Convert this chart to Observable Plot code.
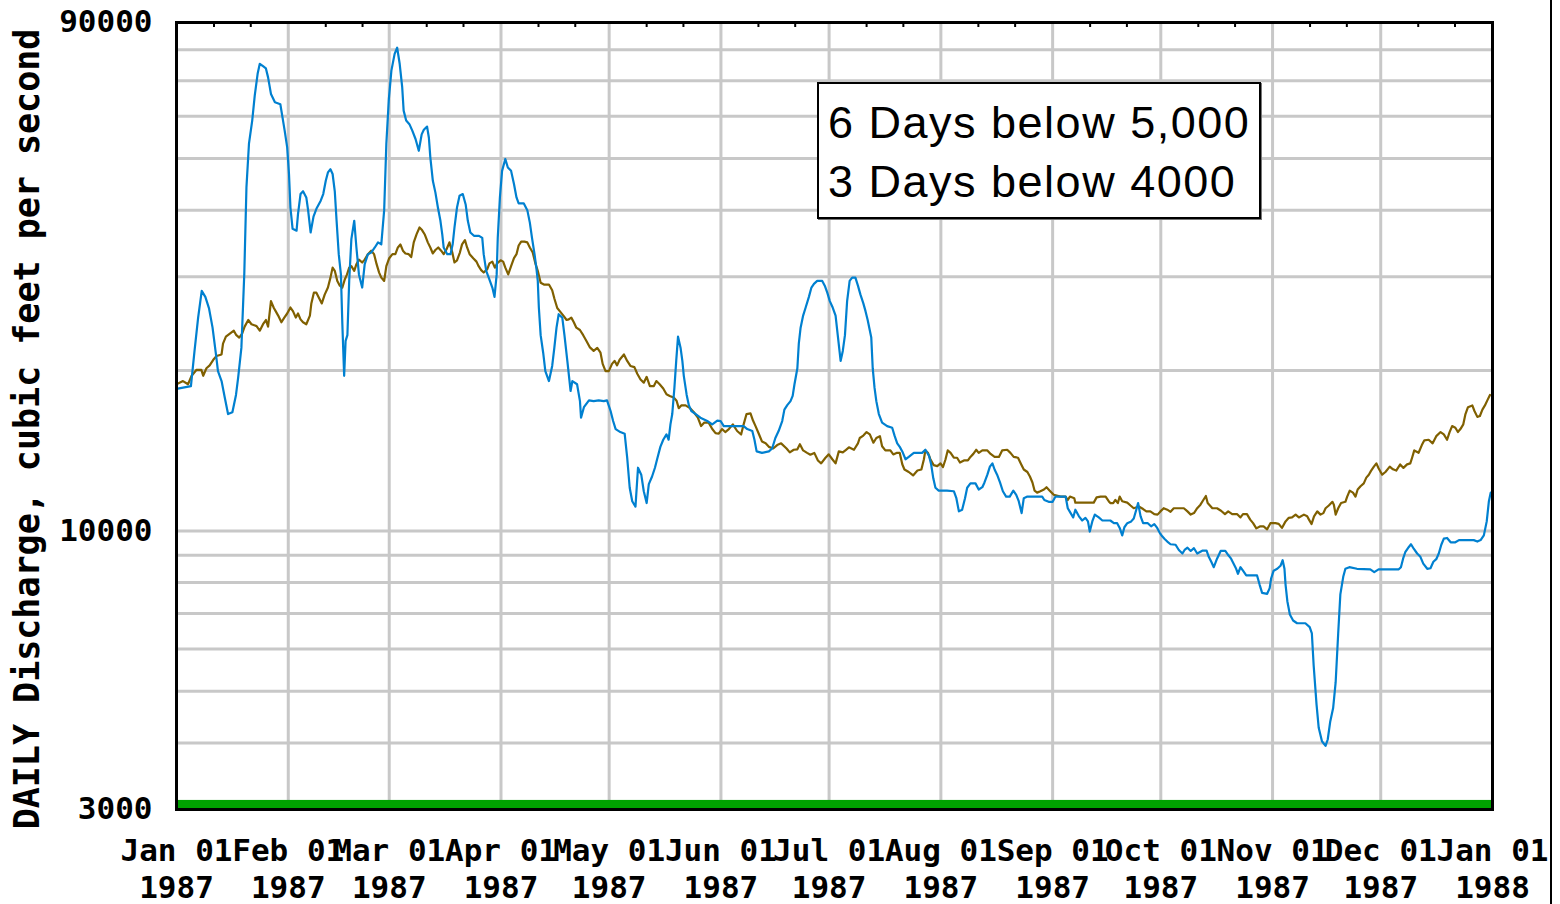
<!DOCTYPE html>
<html><head><meta charset="utf-8">
<script src="https://cdn.jsdelivr.net/npm/d3@7"></script>
<script src="https://cdn.jsdelivr.net/npm/@observablehq/plot@0.6"></script>
<style>
html,body{margin:0;padding:0;background:#fff;}
#wrap{position:relative;width:1560px;height:904px;overflow:hidden;background:#fff;}
#ytitle{position:absolute;left:27px;top:429px;transform:translate(-50%,-50%) rotate(-90deg);white-space:nowrap;font:bold 35px 'DejaVu Sans Mono',monospace;color:#000;}
#note{position:absolute;left:817px;top:82px;width:444px;height:137px;box-sizing:border-box;border:2px solid #000;background:#fff;padding:9px 0 0 9px;font:45px 'Liberation Sans',Arial,sans-serif;line-height:59px;letter-spacing:1.5px;color:#000;box-shadow:1px 1px 0 #777;white-space:nowrap;}
#edge{position:absolute;left:1550px;top:0;width:2px;height:904px;background:#000;}
</style></head>
<body>
<div id="wrap">
  <div id="chart"></div>
  <div id="ytitle">DAILY Discharge, cubic feet per second</div>
  <div id="note"><div>6 Days below 5,000</div><div>3 Days below 4000</div></div>
  <div id="edge"></div>
</div>
<script>
// ---- data (day offset from 1987-01-01, discharge in cfs) ----
const dailySeries = [[0,18470],[4,18700],[5,21770],[6,25140],[7,28220],[8,27500],[9,26200],[10,24070],[11,21300],[11.5,19950],[12.5,19110],[13.4,17780],[14.3,16570],[15.5,16700],[16.5,18000],[17.1,19390],[18,22080],[18.8,30370],[19.4,44130],[20.1,53300],[21,58900],[21.7,65600],[22.5,72100],[23.1,75300],[24,74500],[24.8,73800],[25.4,71000],[26.2,66100],[27.3,63760],[28.8,63200],[29.4,59740],[30,56400],[30.7,52480],[31.2,46760],[31.6,40460],[32.2,36900],[33.3,36600],[33.7,39330],[34.4,42880],[35.1,43400],[36,42260],[36.5,40000],[37.2,36320],[38,38900],[38.8,40230],[40,41660],[40.7,42880],[41.4,45420],[42,47080],[42.7,47730],[43.3,46760],[43.9,43400],[44.4,38200],[45,33070],[45.6,30300],[46,24430],[46.5,19550],[46.9,22730],[47.4,23300],[47.9,29460],[48.5,35290],[49.3,38200],[49.9,34040],[50.6,30300],[51.5,28630],[52.2,31670],[53.1,33070],[54,33300],[55,34040],[55.9,34800],[56.8,34500],[57.6,40000],[58.2,53300],[58.9,64700],[59.6,73100],[60.5,78600],[61.2,80700],[61.9,75300],[62.6,68040],[63,61500],[63.7,58900],[64.6,58000],[65.4,56400],[66.3,54400],[67.2,51700],[68,55500],[68.6,56600],[69.5,57400],[70,54700],[70.4,50250],[71.1,45400],[71.8,43190],[72.5,40460],[73.2,38200],[73.7,36070],[74.1,34040],[75.1,33070],[76,33070],[76.6,34500],[77.1,37110],[77.8,40460],[78.5,42570],[79.4,42880],[80.2,41000],[80.8,38200],[81.5,36320],[82.5,35800],[83.9,35800],[84.8,35470],[85.2,33070],[85.9,30770],[86.6,29880],[87.6,28630],[88.2,27500],[88.8,30300],[89.1,35470],[89.7,42260],[90.3,47400],[91.2,49900],[91.9,48100],[92.8,47400],[93.6,44770],[94.3,42260],[94.9,41200],[96.3,41200],[97.3,40000],[98,37900],[98.6,35470],[99.3,33070],[99.8,31200],[100.2,29460],[100.5,26260],[101,23300],[101.7,21600],[102.3,19950],[103.3,19110],[104.2,20400],[104.8,22080],[105.4,24070],[106,25510],[107,25140],[107.6,23300],[108.4,20850],[109.3,18310],[109.8,19110],[111.1,18850],[111.9,17520],[112.2,16310],[113,17070],[114.4,17580],[115.7,17520],[117.1,17580],[118.5,17520],[119.4,17580],[120.4,16790],[121.1,16080],[121.8,15530],[123.1,15330],[124.3,15220],[125,13720],[125.7,12050],[126.4,11370],[127.3,11110],[128,13140],[128.9,12750],[129.6,11870],[130.4,11280],[131,12240],[131.9,12650],[132.7,13140],[133.3,13630],[134.2,14380],[135,14830],[135.9,15180],[136.5,14830],[137,15850],[137.5,16570],[138.1,18570],[138.6,20850],[139.1,23150],[139.8,22080],[140.3,20850],[140.7,19550],[141.5,18000],[142.1,17220],[142.8,16790],[144,16570],[145.3,16310],[147.2,16080],[148.6,15850],[150,16110],[150.9,16080],[151.8,15730],[153.5,15730],[155.5,15730],[157.3,15730],[158.3,15530],[159.7,15400],[160.3,14830],[160.9,14100],[162.4,14010],[164.3,14100],[165.2,14280],[166.1,14940],[167,15400],[168,16080],[168.6,16890],[169.4,17220],[170.3,17520],[170.9,17920],[171.4,18850],[172.2,20200],[172.6,22460],[173.1,24070],[173.8,25360],[174.5,26260],[175.4,27500],[176.1,28630],[176.8,29080],[177.7,29460],[179.1,29460],[179.8,28860],[180.5,28000],[181.2,27000],[182,26260],[182.8,25360],[183.4,23300],[184.2,20850],[184.8,21770],[185.4,23300],[186,27000],[186.7,29460],[187.4,29880],[188.3,29880],[189,28860],[189.7,27760],[190.5,26730],[191.1,25850],[191.7,24880],[192.7,23060],[193.1,20200],[193.6,18570],[194.1,17520],[194.8,16570],[195.7,15970],[197.1,15730],[198.5,15620],[199.2,15060],[199.9,14600],[200.6,14380],[201.3,14100],[202.2,13630],[203.1,13770],[204.5,14010],[206.8,14010],[207.7,14200],[208.7,13850],[209.3,13340],[209.9,12550],[210.5,12050],[211.4,11900],[213.7,11900],[215.6,11870],[216.3,11520],[217,10880],[217.9,10960],[218.7,11520],[219.3,12050],[220.2,12280],[221.6,12280],[222.5,11960],[223.5,12080],[224.1,12330],[224.9,12750],[225.6,13200],[226.3,13390],[226.9,13040],[227.6,12750],[228.4,12330],[229.2,11870],[230.1,11600],[231.1,11600],[232.1,11900],[232.9,11690],[233.6,11370],[234.4,10800],[235,11520],[236,11600],[240.1,11600],[240.7,11430],[241.9,11340],[243,11340],[243.8,11600],[246.6,11600],[247.2,11030],[248,10800],[248.7,10600],[249.3,10960],[250.3,10650],[251.2,10460],[252.1,10580],[252.8,10420],[253.3,9970],[254,10420],[254.7,10730],[255.8,10600],[256.8,10460],[259,10460],[260,10340],[260.9,10340],[261.6,10130],[262.3,9810],[262.9,10160],[263.7,10340],[264.8,10420],[265.5,10550],[266.2,10960],[266.7,11280],[267.4,10650],[268.1,10340],[269.4,10340],[270.3,10200],[271.2,10300],[272,10130],[272.7,9920],[273.4,9770],[274,9670],[274.8,9550],[275.7,9440],[277.1,9420],[278,9210],[279,9070],[279.6,9210],[280.4,9300],[281.3,9170],[282.2,9280],[283.1,9070],[284.5,9180],[285.7,9180],[286.3,8940],[287,8750],[287.7,8550],[288.6,8870],[289.6,9170],[290.9,9170],[291.7,9010],[292.5,8870],[293.2,8680],[293.9,8490],[294.4,8310],[295.1,8550],[295.8,8420],[296.7,8250],[299.7,8250],[300.4,7930],[301.1,7650],[302.5,7620],[303.2,7810],[303.6,8140],[304.3,8420],[305.3,8490],[306.2,8600],[306.8,8810],[307.3,8490],[307.6,7930],[308.1,7380],[308.8,6970],[309.7,6790],[310.8,6710],[313.1,6710],[314.3,6600],[314.9,6420],[315.4,5590],[316.2,4720],[316.8,4270],[317.7,4030],[318.7,3950],[319.3,4060],[320,4390],[320.8,4650],[321.5,5200],[322.2,6420],[322.8,7600],[323.6,8200],[324.2,8490],[325.3,8550],[327.4,8490],[331.1,8470],[332.2,8370],[333.4,8470],[339,8470],[339.6,8550],[340.2,8870],[340.8,9120],[341.8,9330],[342.4,9440],[343.2,9250],[344.1,9070],[345,8940],[345.8,8680],[346.9,8490],[347.8,8510],[348.6,8750],[349.4,8850],[350.1,9070],[350.8,9420],[351.5,9670],[352.4,9700],[353.4,9520],[354.7,9520],[355.7,9610],[359.8,9610],[360.8,9550],[361.7,9610],[362.6,9810],[363.4,10420],[364,11370],[364.5,11800]];

const medianSeries = [[0,18850],[1.8,19110],[3.2,18850],[4.2,19550],[5.5,20050],[6.9,20050],[7.4,19550],[8.3,20200],[9.2,20450],[10.2,20950],[11.1,21300],[12.5,21440],[12.9,22460],[13.7,23150],[14.8,23460],[15.9,23760],[16.6,23300],[17.4,23060],[18.2,23460],[18.9,24180],[19.9,24880],[20.8,24430],[22.2,24230],[23.1,23760],[24,24430],[24.8,24880],[25.4,24180],[26.2,27000],[27,26200],[27.5,25850],[28.2,25360],[29.1,24640],[29.9,25140],[30.7,25590],[31.6,26260],[32.3,25850],[33.1,25140],[33.7,25590],[34.4,24950],[35.1,24640],[36,24430],[37,25360],[37.4,26730],[38.1,28000],[38.8,28000],[39.6,27300],[40.3,26730],[41.1,27760],[42,28630],[42.7,29880],[43.3,31200],[43.9,30770],[44.6,29460],[45.3,28860],[46,28630],[46.7,29680],[47.3,30300],[47.9,31200],[48.5,31400],[49.3,30770],[49.9,31670],[50.6,32300],[51.5,31900],[52.2,32300],[53.1,33070],[54,33570],[54.8,33070],[55.5,31670],[56.2,30540],[56.8,29880],[57.6,29460],[58.2,31400],[59,32500],[59.9,33070],[60.7,33070],[61.4,34040],[62.1,34480],[62.8,33570],[63.5,33170],[64.4,33070],[65.1,32650],[65.8,34800],[66.6,36070],[67.4,37110],[68.1,36700],[68.9,35960],[69.7,34800],[70.4,34040],[71.1,33170],[71.8,33670],[72.6,34040],[73.4,33570],[74.1,33070],[74.9,33780],[75.7,34800],[76.5,33300],[77.1,31900],[77.8,32200],[78.6,33300],[79.2,34500],[80,35150],[80.6,34040],[81.3,33070],[82.3,32500],[83.2,32020],[83.8,31400],[84.5,30870],[85.2,30540],[86.2,31000],[86.8,31770],[87.6,32020],[88.3,31200],[88.9,31770],[89.9,32200],[90.6,32020],[91.2,31200],[92,30300],[92.8,31400],[93.6,32500],[94.3,33070],[94.9,34330],[95.6,34910],[96.5,34910],[97.3,34800],[98,34040],[98.8,33300],[99.6,31670],[100.2,30770],[101,29220],[101.9,29000],[103.3,29000],[104.2,28300],[104.8,27300],[105.6,26200],[106.3,25850],[107.3,25360],[108.2,24880],[108.8,24950],[109.5,25140],[110.2,24640],[110.9,24070],[111.9,23830],[112.8,23300],[113.7,22730],[114.6,22130],[115.7,21770],[116.7,22050],[117.6,21600],[118.2,20580],[119,19950],[119.9,19950],[120.8,20580],[121.5,20850],[122.2,20450],[122.9,20950],[124.1,21440],[125,20850],[125.9,20400],[127,20300],[127.8,19720],[128.7,19240],[129.6,18980],[130.4,19460],[131.3,18700],[132.4,18700],[133.1,19110],[134,18850],[135,18510],[135.9,18050],[136.8,17920],[137.9,17800],[138.7,17550],[139.3,17000],[140,17200],[141.2,17200],[142.4,17000],[143.5,16700],[144.6,16310],[145.5,15730],[146.4,15970],[147.6,15970],[148.6,15530],[149.5,15260],[150.4,15220],[151.3,15530],[152.2,15330],[153.2,15530],[154.3,15850],[155.5,15400],[156.6,15170],[157.3,15850],[158.1,16570],[159.2,16620],[159.9,16110],[160.6,15730],[161.5,15220],[162.4,14710],[163.4,14600],[164.3,14380],[165.5,14280],[166.6,14490],[167.7,14600],[169.2,14280],[170.1,14040],[171.2,14200],[172.2,14230],[172.9,14550],[173.8,14160],[174.9,14010],[175.8,13900],[176.9,14010],[177.9,13560],[178.8,13390],[180,13720],[180.9,13920],[181.9,13630],[182.8,13390],[183.7,14100],[184.8,14040],[185.7,14200],[186.5,14350],[187.9,14200],[189,14600],[189.5,14940],[190.5,15100],[191.4,15330],[192.3,15180],[193.3,14640],[194.1,14940],[195.1,15060],[195.7,14420],[196.6,14160],[198,14160],[198.8,13920],[199.7,14010],[200.6,14010],[201.3,13340],[201.9,13040],[203.1,12900],[204.3,12710],[205.5,12980],[206.6,13040],[207.3,13630],[207.7,14160],[208.4,14020],[209.1,13630],[210,13290],[211,13230],[211.9,13390],[212.6,13180],[213.3,13630],[213.9,14160],[214.7,14010],[215.6,13720],[216.5,13720],[217.3,13440],[218.4,13560],[219.5,13560],[220.2,13770],[221,13950],[221.8,14200],[222.5,14010],[223.5,14160],[224.9,14160],[225.8,13950],[226.9,13770],[228.1,13770],[229,14160],[230.4,14200],[231.3,14010],[232.2,13770],[233.4,13720],[234.3,13330],[235,13040],[236,12900],[236.7,12650],[237.4,12330],[238,11900],[238.7,11800],[239.6,11870],[240.6,11960],[241.3,12080],[242.2,11900],[243.3,11690],[245.2,11600],[246.6,11600],[247.2,11430],[247.8,11600],[249,11520],[249.3,11300],[250.7,11300],[252.6,11300],[254.4,11300],[255.2,11560],[256.3,11600],[257.7,11600],[258.6,11360],[259,11280],[259.8,11280],[260.4,11430],[261.1,11280],[261.6,11600],[262.3,11370],[263.7,11300],[264.6,11160],[265.5,11030],[266.9,11110],[268.1,10990],[269,10880],[270.1,10880],[271.2,10750],[272.1,10730],[272.9,10880],[273.8,11030],[274.8,10960],[275.7,10860],[276.6,11030],[278,11030],[279.4,11030],[280.4,10880],[281.3,10730],[282.2,10800],[283.1,11030],[284,11200],[284.8,11430],[285.5,11630],[286,11280],[287.3,11030],[288.6,11030],[289.7,10910],[290.8,10750],[291.7,10880],[292.8,10750],[294.2,10750],[295.1,10600],[295.8,10750],[296.9,10750],[297.8,10500],[298.6,10340],[299.5,10110],[300.6,10200],[301.5,10200],[302.5,10070],[303.4,10340],[304.8,10340],[305.7,10310],[306.6,10130],[307.6,10420],[308.5,10580],[309.4,10600],[310.4,10730],[311.3,10600],[312.7,10730],[313.6,10650],[314.1,10500],[314.8,10300],[315.5,10650],[316.4,10880],[317.3,10730],[318.1,10800],[318.7,11030],[319.6,11160],[320.6,11340],[321,11200],[321.5,10730],[322.2,11030],[323,11280],[324.2,11340],[324.7,11600],[325.4,11900],[326.3,11800],[327,11600],[327.6,11960],[328.4,12130],[329.3,12280],[330,12590],[330.7,12750],[331.3,12960],[332.1,13200],[332.8,13390],[333.4,13110],[334.4,12750],[335.3,12900],[336.5,13200],[337.4,13050],[338.3,12980],[339.4,13330],[340.3,13130],[341.3,13330],[342.2,13390],[342.7,13720],[343.3,14160],[344.5,14020],[345.4,14490],[346.1,14790],[347.3,14830],[348.4,14600],[349.4,15060],[350.6,15330],[351.5,15180],[352.4,14830],[353.1,15330],[353.8,15730],[354.7,15620],[355.4,15330],[356.1,15530],[356.9,15850],[357.5,16570],[358.2,17070],[359.4,17200],[360,16790],[360.8,16370],[361.5,16430],[362.2,16890],[362.9,17200],[363.6,17600],[364.3,18000]];

const monthStartDays = [0,31,59,90,120,151,181,212,243,273,304,334,365];
const xTickLabels = ["Jan 01\n1987","Feb 01\n1987","Mar 01\n1987","Apr 01\n1987","May 01\n1987","Jun 01\n1987","Jul 01\n1987","Aug 01\n1987","Sep 01\n1987","Oct 01\n1987","Nov 01\n1987","Dec 01\n1987","Jan 01\n1988"];
const yTicks = [3000, 10000, 90000];
const yTickLabels = ["3000", "10000", "90000"];
const yGrid = [4000,5000,6000,7000,8000,9000,10000,20000,30000,40000,50000,60000,70000,80000];
const bandLow = 3000, bandHigh = 3120;

// ---- build ----
const T0 = Date.UTC(1987, 0, 1), DAY = 864e5;
const toDate = d => new Date(T0 + d * DAY);
const daily = dailySeries.map(([d, v]) => ({date: toDate(d), cfs: v}));
const median = medianSeries.map(([d, v]) => ({date: toDate(d), cfs: v}));
const monthDates = monthStartDays.map(toDate);
const minorDates = monthStartDays.slice(0, 12).flatMap(d => [toDate(d + 10.4), toDate(d + 20.6)]);
const band = [{x1: toDate(0), x2: toDate(365), y1: bandLow, y2: bandHigh}];
const yLabelRows = yTicks.map((v, i) => ({v, label: yTickLabels[i]}));

const chart = Plot.plot({
  width: 1560, height: 904,
  marginLeft: 176, marginRight: 68, marginTop: 22, marginBottom: 95,
  style: {fontFamily: "'DejaVu Sans Mono', monospace", fontSize: "31px", fontWeight: "bold", background: "white", color: "black", overflow: "visible"},
  x: {type: "utc", domain: [toDate(0), toDate(365)], label: null},
  y: {type: "log", domain: [3000, 90000], label: null, axis: null},
  marks: [
    Plot.ruleY(yGrid, {stroke: "#c8c8c8", strokeWidth: 3}),
    Plot.ruleX(monthDates.slice(1, 12), {stroke: "#c8c8c8", strokeWidth: 3}),
    Plot.rect(band, {x1: "x1", x2: "x2", y1: "y1", y2: "y2", fill: "#00a000"}),
    Plot.line(median, {x: "date", y: "cfs", stroke: "#806000", strokeWidth: 2.2}),
    Plot.line(daily, {x: "date", y: "cfs", stroke: "#0080d0", strokeWidth: 2.2}),
    Plot.ruleX(minorDates, {stroke: "black", strokeWidth: 2, insetBottom: 782}),
    Plot.frame({stroke: "black", strokeWidth: 3}),
    Plot.text(yLabelRows, {y: "v", text: "label", frameAnchor: "left", textAnchor: "end", lineAnchor: "middle", dx: -24, fontSize: 31, fontWeight: "bold", fill: "black"}),
    Plot.axisX({ticks: monthDates, tickFormat: d => xTickLabels[monthDates.findIndex(m => +m === +d)], tickSize: 0, tickPadding: 25, fontSize: 31, fontWeight: "bold", lineHeight: 1.2, label: null})
  ]
});
document.getElementById("chart").appendChild(chart);
</script>
</body></html>
